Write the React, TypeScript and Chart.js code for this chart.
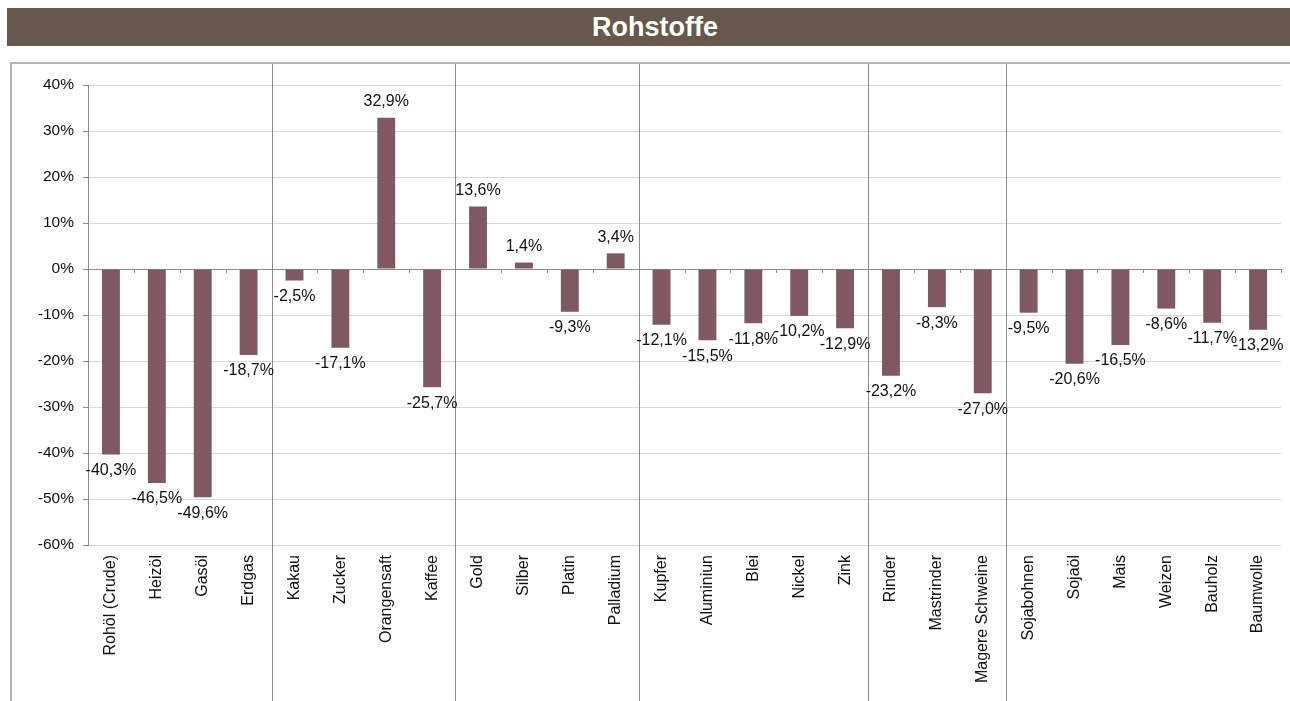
import React, { useEffect, useRef } from 'react';
import { Chart, registerables } from 'chart.js';

Chart.register(...registerables);

const title = 'Rohstoffe';

const categories = [
  'Rohöl (Crude)', 'Heizöl', 'Gasöl', 'Erdgas',
  'Kakau', 'Zucker', 'Orangensaft', 'Kaffee',
  'Gold', 'Silber', 'Platin', 'Palladium',
  'Kupfer', 'Aluminiun', 'Blei', 'Nickel', 'Zink',
  'Rinder', 'Mastrinder', 'Magere Schweine',
  'Sojabohnen', 'Sojaöl', 'Mais', 'Weizen', 'Bauholz', 'Baumwolle',
];

const values = [
  -40.3, -46.5, -49.6, -18.7,
  -2.5, -17.1, 32.9, -25.7,
  13.6, 1.4, -9.3, 3.4,
  -12.1, -15.5, -11.8, -10.2, -12.9,
  -23.2, -8.3, -27.0,
  -9.5, -20.6, -16.5, -8.6, -11.7, -13.2,
];

const groupSizes = [4, 4, 4, 5, 3, 6];

const yMin = -60;
const yMax = 40;
const yStep = 10;

const FONT = "'Liberation Sans', Arial, Helvetica, sans-serif";
const BAR_COLOR = '#7f5861';
const AXIS_COLOR = '#8c8c8c';
const GRID_COLOR = '#d9d9d9';

export default function App() {
  const ref = useRef<HTMLCanvasElement>(null);

  useEffect(() => {
    const canvas = ref.current;
    if (!canvas) return;

    const fmt = (v: number) => v.toFixed(1).replace('.', ',') + '%';

    const decorations = {
      id: 'decorations',
      beforeDatasetsDraw(chart: any) {
        const ctx = chart.ctx;
        const x = chart.scales.x;
        const y = chart.scales.y;
        const half = (x.getPixelForValue(1) - x.getPixelForValue(0)) / 2;
        const y0 = y.getPixelForValue(0);
        ctx.save();
        ctx.strokeStyle = AXIS_COLOR;
        ctx.lineWidth = 1;
        for (let i = 0; i <= categories.length; i++) {
          const px = Math.round(x.getPixelForValue(0) - half + i * 2 * half) + 0.5;
          ctx.beginPath();
          ctx.moveTo(px, y0);
          ctx.lineTo(px, y0 + 4);
          ctx.stroke();
        }
        let idx = 0;
        for (let g = 0; g < groupSizes.length - 1; g++) {
          idx += groupSizes[g];
          const px = Math.round(x.getPixelForValue(idx - 1) + half) + 0.5;
          ctx.beginPath();
          ctx.moveTo(px, 64);
          ctx.lineTo(px, chart.height);
          ctx.stroke();
        }
        ctx.restore();
      },
      afterDatasetsDraw(chart: any) {
        const ctx = chart.ctx;
        const meta = chart.getDatasetMeta(0);
        ctx.save();
        ctx.font = `16px ${FONT}`;
        ctx.fillStyle = '#111';
        ctx.textAlign = 'center';
        ctx.textBaseline = 'middle';
        meta.data.forEach((bar: any, i: number) => {
          const v = values[i];
          const ty = v >= 0 ? bar.y - 16 : bar.y + 16;
          ctx.fillText(fmt(v), bar.x, ty);
        });
        ctx.restore();
      },
    };

    const chart = new Chart(canvas, {
      type: 'bar',
      data: {
        labels: categories,
        datasets: [
          {
            data: values,
            backgroundColor: BAR_COLOR,
            borderWidth: 0,
            barPercentage: 0.39,
            categoryPercentage: 1,
          },
        ],
      },
      options: {
        responsive: false,
        animation: false,
        devicePixelRatio: 1,
        layout: { padding: { left: 0, right: 9, top: 85, bottom: 0 } },
        plugins: {
          legend: { display: false },
          title: { display: false },
          tooltip: { enabled: false },
        },
        scales: {
          x: {
            grid: { display: false, drawTicks: false },
            border: { display: false },
            ticks: {
              autoSkip: false,
              minRotation: 90,
              maxRotation: 90,
              padding: 10,
              color: '#111',
              font: { family: FONT, size: 16 },
            },
            afterFit: (scale: any) => {
              scale.height = 156;
            },
          },
          y: {
            min: yMin,
            max: yMax,
            ticks: {
              stepSize: yStep,
              padding: 9,
              color: '#111',
              font: { family: FONT, size: 15.5 },
              callback: (v: any) => `${v}%`,
            },
            grid: {
              color: (c: any) => (c.tick && c.tick.value === 0 ? AXIS_COLOR : GRID_COLOR),
              tickColor: AXIS_COLOR,
              tickLength: 5,
              lineWidth: 1,
            },
            border: { display: true, color: AXIS_COLOR, width: 1 },
            afterFit: (scale: any) => {
              scale.width = 88;
            },
          },
        },
      },
      plugins: [decorations],
    });

    return () => chart.destroy();
  }, []);

  return (
    <div
      style={{
        position: 'fixed',
        left: 0,
        top: 0,
        width: 1290,
        height: 701,
        overflow: 'hidden',
        background: '#fff',
      }}
    >
      <div
        style={{
          position: 'absolute',
          left: 7,
          top: 8,
          width: 1283,
          height: 38,
          background: '#67574d',
          color: '#fff',
          fontFamily: FONT,
          fontWeight: 'bold',
          fontSize: 27,
          lineHeight: '38px',
          textAlign: 'center',
          paddingLeft: 13,
          boxSizing: 'border-box',
        }}
      >
        {title}
      </div>
      <div
        style={{
          position: 'absolute',
          left: 10,
          top: 62,
          width: 1320,
          height: 700,
          borderTop: '2px solid #b5b5b5',
          borderLeft: '2px solid #b5b5b5',
        }}
      />
      <canvas
        ref={ref}
        width={1290}
        height={701}
        style={{ position: 'absolute', left: 0, top: 0, display: 'block' }}
      />
    </div>
  );
}
